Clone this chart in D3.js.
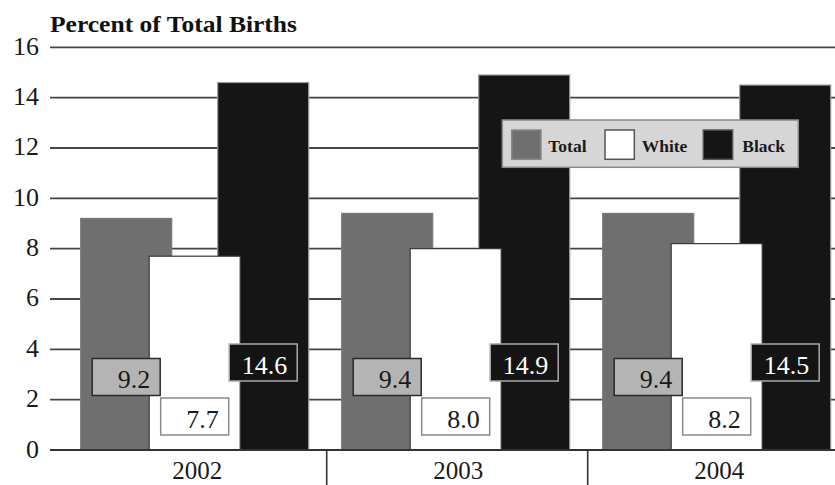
<!DOCTYPE html>
<html>
<head>
<meta charset="utf-8">
<script src="https://cdn.jsdelivr.net/npm/d3@7/dist/d3.min.js"></script>
<style>
  html, body { margin: 0; padding: 0; background: #ffffff; }
  svg { display: block; }
</style>
</head>
<body>
<svg id="chart" width="835" height="485" font-family="'Liberation Serif', Tinos, 'Times New Roman', Times, serif"></svg>
<script>
// ---- data ----
const categories = ["2002", "2003", "2004"];
const seriesNames = ["Total", "White", "Black"];
const totalValues = [9.2, 9.4, 9.4];
const whiteValues = [7.7, 8.0, 8.2];
const blackValues = [14.6, 14.9, 14.5];
const valueLabels = {
  Total: ["9.2", "9.4", "9.4"],
  White: ["7.7", "8.0", "8.2"],
  Black: ["14.6", "14.9", "14.5"]
};
const yTicks = [0, 2, 4, 6, 8, 10, 12, 14, 16];
const titleText = "Percent of Total Births";

// ---- styles ----
const fills = { Total: "#6f6f6f", White: "#ffffff", Black: "#151515" };
const strokes = { Total: "#7a7a7a", White: "#3a3a3a", Black: "#9a9a9a" };
const boxFill = { Total: "#b4b4b4", White: "#ffffff", Black: "#141414" };
const boxStroke = { Total: "#2a2a2a", White: "#8a8a8a", Black: "#a8a8a8" };
const boxText = { Total: "#1a1a1a", White: "#1a1a1a", Black: "#ffffff" };
const boxTop = { Total: 358.5, White: 398, Black: 344 };

const values = { Total: totalValues, White: whiteValues, Black: blackValues };

const svg = d3.select("#chart");

const y = d3.scaleLinear().domain([0, 16]).range([450, 47.3]);
const x = d3.scaleBand().domain(categories).range([65.7, 848.7]).padding(0);
const inner = d3.scaleBand().domain(seriesNames).range([15, 15 + 3 * 68.5]).padding(0);
const barW = 91;

// gridlines
svg.append("g").selectAll("line")
  .data(yTicks)
  .join("line")
  .attr("x1", 50).attr("x2", 835)
  .attr("y1", d => y(d)).attr("y2", d => y(d))
  .attr("stroke", "#454545")
  .attr("stroke-width", 1.8);

// y tick labels
svg.append("g").selectAll("text")
  .data(yTicks)
  .join("text")
  .attr("x", 39)
  .attr("y", d => y(d) - 1)
  .attr("text-anchor", "end")
  .attr("dominant-baseline", "central")
  .attr("font-size", 26)
  .attr("fill", "#1a1a1a")
  .text(d => d);

// title
svg.append("text")
  .attr("x", 50).attr("y", 31.5)
  .attr("font-size", 23)
  .attr("font-weight", "bold")
  .attr("fill", "#111")
  .attr("textLength", 247)
  .attr("lengthAdjust", "spacingAndGlyphs")
  .text(titleText);

// bars: draw order Total, Black, White
const drawOrder = ["Total", "Black", "White"];
const barsG = svg.append("g");
drawOrder.forEach(s => {
  barsG.append("g").selectAll("rect")
    .data(categories.map((c, i) => ({ c, v: values[s][i] })))
    .join("rect")
    .attr("x", d => x(d.c) + inner(s))
    .attr("y", d => y(d.v))
    .attr("width", barW)
    .attr("height", d => y(0) - y(d.v))
    .attr("fill", fills[s])
    .attr("stroke", strokes[s])
    .attr("stroke-width", 1.2);
});

// axis baseline
svg.append("line")
  .attr("x1", 50).attr("x2", 835)
  .attr("y1", y(0)).attr("y2", y(0))
  .attr("stroke", "#333").attr("stroke-width", 1.8);

// category separators
svg.append("g").selectAll("line")
  .data(categories.slice(1))
  .join("line")
  .attr("x1", d => x(d)).attr("x2", d => x(d))
  .attr("y1", y(0)).attr("y2", 485)
  .attr("stroke", "#333").attr("stroke-width", 1.6);

// category labels
svg.append("g").selectAll("text")
  .data(categories)
  .join("text")
  .attr("x", d => x(d) + x.bandwidth() / 2 + 1)
  .attr("y", 479)
  .attr("text-anchor", "middle")
  .attr("font-size", 25)
  .attr("fill", "#1a1a1a")
  .text(d => d);

// value label boxes
const boxW = 68, boxH = 37;
seriesNames.forEach(s => {
  const g = svg.append("g");
  categories.forEach((c, i) => {
    const cx = x(c) + inner(s) + barW / 2;
    const bx = cx - boxW / 2;
    const by = boxTop[s];
    g.append("rect")
      .attr("x", bx).attr("y", by)
      .attr("width", boxW).attr("height", boxH)
      .attr("fill", boxFill[s])
      .attr("stroke", boxStroke[s])
      .attr("stroke-width", 1.5);
    g.append("text")
      .attr("x", bx + boxW - 10)
      .attr("y", by + boxH - 7.5)
      .attr("text-anchor", "end")
      .attr("font-size", 26)
      .attr("fill", boxText[s])
      .text(valueLabels[s][i]);
  });
});

// legend
const legend = svg.append("g");
legend.append("rect")
  .attr("x", 502.3).attr("y", 120)
  .attr("width", 296).attr("height", 47.3)
  .attr("fill", "#d6d6d6")
  .attr("stroke", "#8a8a8a")
  .attr("stroke-width", 1.5);
const legendSwatchX = [511.7, 605, 703.3];
const legendTextX = [548.3, 641.7, 742.3];
seriesNames.forEach((s, i) => {
  legend.append("rect")
    .attr("x", legendSwatchX[i]).attr("y", 130)
    .attr("width", 29.3).attr("height", 29.3)
    .attr("fill", fills[s])
    .attr("stroke", s === "Total" ? "#8a8a8a" : "#555")
    .attr("stroke-width", 1.5);
  legend.append("text")
    .attr("x", legendTextX[i]).attr("y", 151.7)
    .attr("font-size", 17.5)
    .attr("font-weight", "bold")
    .attr("fill", "#1a1a1a")
    .text(s);
});
</script>
</body>
</html>
